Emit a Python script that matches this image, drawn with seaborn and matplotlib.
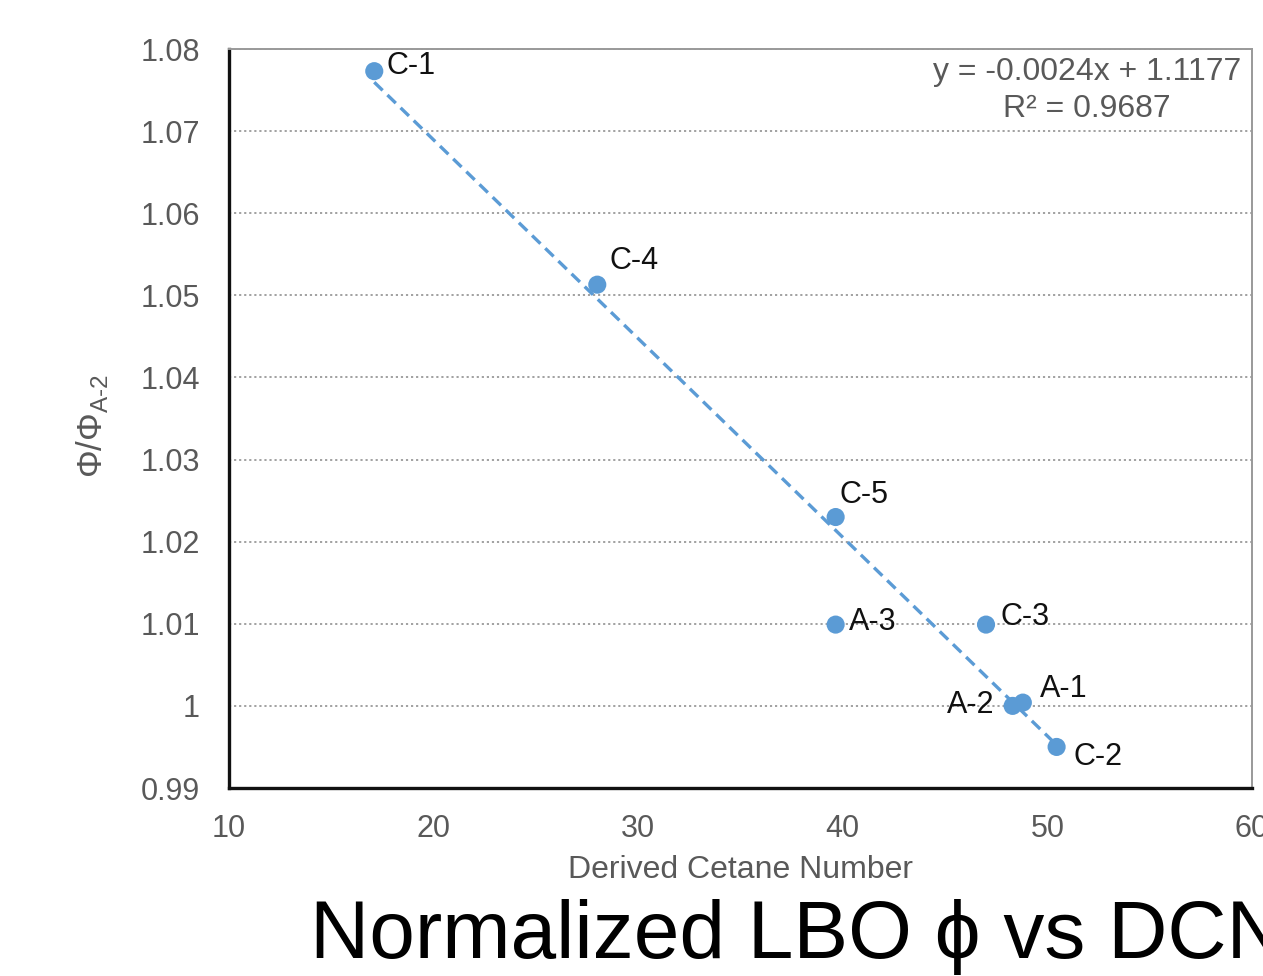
import matplotlib
matplotlib.use("Agg")
import matplotlib.pyplot as plt
import matplotlib.transforms as mtransforms
import seaborn as sns
import pandas as pd
from matplotlib.ticker import FixedLocator, FixedFormatter

# ---- data ----
labels = ["C-1", "C-4", "C-5", "A-3", "C-3", "A-2", "A-1", "C-2"]
dcn = [17.1, 28.0, 39.65, 39.65, 47.0, 48.3, 48.8, 50.45]
phi_ratio = [1.0773, 1.0513, 1.0230, 1.0099, 1.0099, 1.0000, 1.0004, 0.9950]
label_offsets_px = [(12, 5), (12, 24), (4, 22), (13, 3), (14, 8), (-18, 1), (17, 14), (17, -10)]
label_ha = ["left", "left", "left", "left", "left", "right", "left", "left"]

y_ticks = [0.99, 1.00, 1.01, 1.02, 1.03, 1.04, 1.05, 1.06, 1.07, 1.08]
y_tick_labels = ["0.99", "1", "1.01", "1.02", "1.03", "1.04", "1.05", "1.06", "1.07", "1.08"]
x_ticks = [10, 20, 30, 40, 50, 60]
x_tick_labels = ["10", "20", "30", "40", "50", "60"]

equation_text = "y = -0.0024x + 1.1177\nR² = 0.9687"
x_label = "Derived Cetane Number"
y_label = "Φ/Φ$_{\\mathregular{A‐2}}$"
title_text = "Normalized LBO ϕ vs DCN"

df = pd.DataFrame({"DCN": dcn, "ratio": phi_ratio, "label": labels})

sns.set_theme(style="white")
plt.rcParams["font.family"] = ["Liberation Sans", "DejaVu Sans"]
plt.rcParams["mathtext.fontset"] = "custom"
plt.rcParams["mathtext.rm"] = "Liberation Sans"

fig = plt.figure(figsize=(12.63, 9.76), dpi=100)
fig.patch.set_facecolor("white")
ax = fig.add_axes([229 / 1263, 1 - 788 / 976, (1252 - 229) / 1263, (788 - 49) / 976])
ax.set_facecolor("white")

blue = "#5B9BD5"
tick_gray = "#595959"

sns.regplot(data=df, x="DCN", y="ratio", scatter=False, ci=None, ax=ax,
            line_kws=dict(color=blue, lw=2.4, linestyle=(0, (3.5, 2.0))))
sns.scatterplot(data=df, x="DCN", y="ratio", ax=ax, s=170, color=blue,
                edgecolor="none", zorder=5)

for lab, xv, yv, off, ha in zip(labels, dcn, phi_ratio, label_offsets_px, label_ha):
    ax.annotate(lab, (xv, yv), xytext=off, textcoords="offset pixels",
                ha=ha, va="center", fontsize=22, color="#111111", zorder=6)

ax.set_xlim(10, 60)
ax.set_ylim(0.99, 1.08)
ax.xaxis.set_major_locator(FixedLocator(x_ticks))
ax.xaxis.set_major_formatter(FixedFormatter(x_tick_labels))
ax.yaxis.set_major_locator(FixedLocator(y_ticks))
ax.yaxis.set_major_formatter(FixedFormatter(y_tick_labels))
ax.tick_params(axis="both", length=0, labelsize=22, labelcolor=tick_gray)
ax.tick_params(axis="y", pad=21)
ax.tick_params(axis="x", pad=19)

ax.yaxis.grid(True, linestyle=(0, (1.2, 1.6)), color="#9a9a9a", lw=1.3)
ax.xaxis.grid(False)
ax.set_axisbelow(True)

for side in ["left", "bottom"]:
    ax.spines[side].set_color("#111111")
    ax.spines[side].set_linewidth(2.4)
for side in ["top", "right"]:
    ax.spines[side].set_color("#999999")
    ax.spines[side].set_linewidth(1.4)

ax.set_xlabel(x_label, fontsize=23, color=tick_gray, labelpad=8)
ax.set_ylabel(y_label, fontsize=25, color=tick_gray, labelpad=20)
ax.yaxis.set_label_coords(-0.116, 0.49)

fig.text(1087, 976 - 57, equation_text, transform=mtransforms.IdentityTransform(),
         fontsize=23, color=tick_gray, ha="center", va="top",
         multialignment="center", linespacing=1.3)

fig.text(310 / 1263, 1 - 958 / 976, title_text, fontsize=59, color="black",
         ha="left", va="baseline")

fig.savefig("out.png", dpi=100, facecolor="white")
